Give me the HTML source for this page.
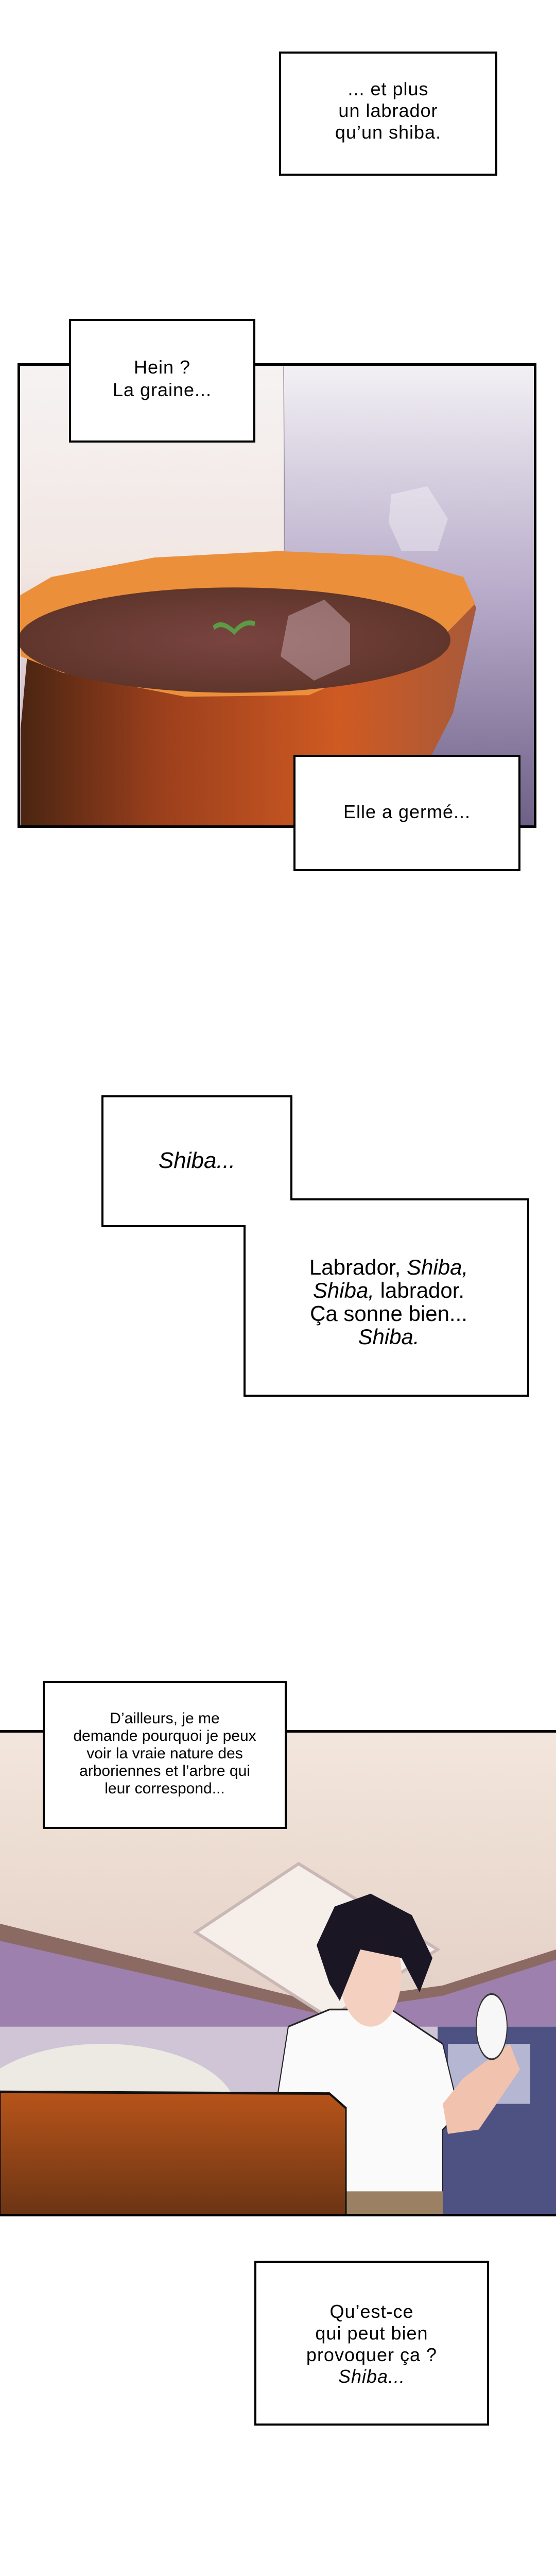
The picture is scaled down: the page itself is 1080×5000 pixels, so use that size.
<!DOCTYPE html>
<html><head><meta charset="utf-8">
<style>
html,body{margin:0;padding:0;background:#fff;}
body{width:1080px;height:5000px;position:relative;overflow:hidden;font-family:"Liberation Sans",sans-serif;}
.box{position:absolute;background:#fff;border:4px solid #000;box-sizing:border-box;}
.t{position:absolute;left:0;right:0;text-align:center;color:#000;}
.n{font-family:"Liberation Sans",sans-serif;}
svg{position:absolute;left:0;}
.frame{position:absolute;border:5px solid #000;box-sizing:border-box;}
</style></head><body>

<div class="box" style="left:542px;top:100px;width:424px;height:241px;">
 <div class="t" style="top:48px;font-size:36px;line-height:42px;letter-spacing:1px;">... et plus<br>un labrador<br>qu’un shiba.</div>
</div>

<!-- Panel 1 -->
<svg style="top:705px" width="1080" height="902" viewBox="0 448 1080 574" preserveAspectRatio="none">
 <defs>
  <linearGradient id="lw" x1="0" y1="0" x2="0" y2="1">
   <stop offset="0" stop-color="#f6f3f3"/><stop offset="0.45" stop-color="#f1e6e2"/><stop offset="1" stop-color="#b9a3bd"/>
  </linearGradient>
  <linearGradient id="rw" x1="0" y1="0" x2="0" y2="1">
   <stop offset="0" stop-color="#f2f0f4"/><stop offset="0.5" stop-color="#b7aac9"/><stop offset="1" stop-color="#6d6086"/>
  </linearGradient>
  <linearGradient id="pot" x1="0" y1="0" x2="1" y2="0">
   <stop offset="0" stop-color="#4a2512"/><stop offset="0.3" stop-color="#9a3f1c"/><stop offset="0.7" stop-color="#cf5a22"/><stop offset="1" stop-color="#a85a3a"/>
  </linearGradient>
  <radialGradient id="soil" cx="0.5" cy="0.5" r="0.6">
   <stop offset="0" stop-color="#7a4440"/><stop offset="1" stop-color="#5a3328"/>
  </radialGradient>
 </defs>
 <rect x="34" y="448" width="1008" height="574" fill="url(#lw)"/>
 <rect x="551" y="452" width="491" height="570" fill="url(#rw)"/>
 <line x1="551" y1="452" x2="553" y2="680" stroke="#9a8f9c" stroke-width="1.5"/>
 <polygon points="40,1021 40,900 60,760 100,720 300,690 540,681 760,690 900,720 925,750 880,880 800,980 760,1021" fill="url(#pot)"/>
 <polygon points="38,735 100,712 300,688 540,680 760,686 900,712 923,745 860,786 600,858 360,860 120,830 40,810" fill="#ec8f3a"/>
 <ellipse cx="455" cy="790" rx="420" ry="65" fill="url(#soil)"/>
 <path d="M415,775 q15,-10 40,5 q20,-15 40,-10" stroke="#5d9a45" stroke-width="6" fill="none"/>
 <polygon points="560,760 630,740 680,770 680,820 610,840 545,810" fill="#f3d9e6" opacity="0.35"/>
 <polygon points="760,610 830,600 870,640 850,680 780,680 755,645" fill="#ffffff" opacity="0.35"/>
</svg>
<div class="frame" style="left:34px;top:705px;width:1008px;height:902px;"></div>

<div class="box" style="left:134px;top:619px;width:362px;height:240px;">
 <div class="t" style="top:68px;font-size:36px;line-height:44px;letter-spacing:1px;">Hein ?<br>La graine...</div>
</div>
<div class="box" style="left:570px;top:1465px;width:441px;height:226px;">
 <div class="t" style="top:86px;font-size:36px;letter-spacing:1px;">Elle a germé...</div>
</div>

<!-- Shiba polygon -->
<svg style="top:2100px" width="1080" height="640" viewBox="0 2100 1080 640">
 <polygon points="199,2128 566,2128 566,2328 1026,2328 1026,2709 475,2709 475,2380 199,2380" fill="#fff" stroke="#000" stroke-width="4"/>
</svg>
<div class="n" style="position:absolute;left:199px;width:367px;top:2228px;text-align:center;font-size:44px;font-style:italic;">Shiba...</div>
<div class="n" style="position:absolute;left:475px;width:560px;top:2437px;text-align:center;font-size:42px;line-height:45px;">Labrador, <i>Shiba,</i><br><i>Shiba,</i> labrador.<br>Ça sonne bien...<br><i>Shiba.</i></div>

<!-- Panel 3 -->
<svg style="top:3361px" width="1080" height="939" viewBox="0 3296 1080 564" preserveAspectRatio="none">
 <defs>
  <linearGradient id="ceil" x1="0" y1="0" x2="0" y2="1">
   <stop offset="0" stop-color="#f3e6dc"/><stop offset="1" stop-color="#d8c0b6"/>
  </linearGradient>
  <linearGradient id="desk" x1="0" y1="0" x2="0" y2="1">
   <stop offset="0" stop-color="#b8541a"/><stop offset="1" stop-color="#6a3414"/>
  </linearGradient>
 </defs>
 <rect x="0" y="3296" width="1080" height="566" fill="url(#ceil)"/>
 <polygon points="0,3525 620,3620 860,3600 1080,3560 1080,3862 0,3862" fill="#9d80ad"/>
 <polygon points="0,3520 620,3612 860,3592 1080,3550 1080,3562 860,3604 620,3625 0,3540" fill="#8c6a64"/>
 <rect x="0" y="3640" width="1080" height="222" fill="#cfc5d6"/>
 <ellipse cx="200" cy="3740" rx="260" ry="80" fill="#f4f2e6" opacity="0.8"/>
 <rect x="850" y="3640" width="230" height="222" fill="#4e5283"/>
 <rect x="870" y="3660" width="160" height="70" fill="#b5b6d2"/>
 <polygon points="380,3530 580,3450 850,3550 640,3630" fill="#f6eee8" stroke="#c9b8b5" stroke-width="4"/>
 <polygon points="534,3740 560,3640 640,3620 760,3620 860,3660 892,3740 860,3760 860,3862 650,3862 640,3740" fill="#fafafa" stroke="#222" stroke-width="2"/>
 <rect x="648" y="3832" width="212" height="30" fill="#9b8063"/>
 <polygon points="860,3730 900,3700 990,3660 1010,3690 930,3760 870,3765" fill="#f1c2ad"/>
 <ellipse cx="955" cy="3640" rx="30" ry="38" fill="#f7f7f8" stroke="#333" stroke-width="2"/>
 <ellipse cx="720" cy="3580" rx="60" ry="60" fill="#f4d0c0"/>
 <polygon points="615,3545 650,3500 720,3485 800,3510 840,3560 815,3600 780,3560 700,3550 660,3610 640,3590" fill="#1b1624"/>
 <polygon points="0,3716 640,3718 672,3735 672,3862 0,3862" fill="url(#desk)" stroke="#111" stroke-width="3"/>
</svg>
<div style="position:absolute;left:0;top:3358px;width:1080px;height:5px;background:#000;"></div>
<div style="position:absolute;left:0;top:4297px;width:1080px;height:5px;background:#000;"></div>

<div class="box n" style="left:83px;top:3263px;width:474px;height:287px;">
 <div class="t" style="top:52px;font-size:30px;line-height:34px;">D’ailleurs, je me<br>demande pourquoi je peux<br>voir la vraie nature des<br>arboriennes et l’arbre qui<br>leur correspond...</div>
</div>

<div class="box" style="left:494px;top:4388px;width:456px;height:320px;">
 <div class="t" style="top:74px;font-size:36px;line-height:42px;letter-spacing:1px;">Qu’est-ce<br>qui peut bien<br>provoquer ça ?<br><i>Shiba...</i></div>
</div>

</body></html>
